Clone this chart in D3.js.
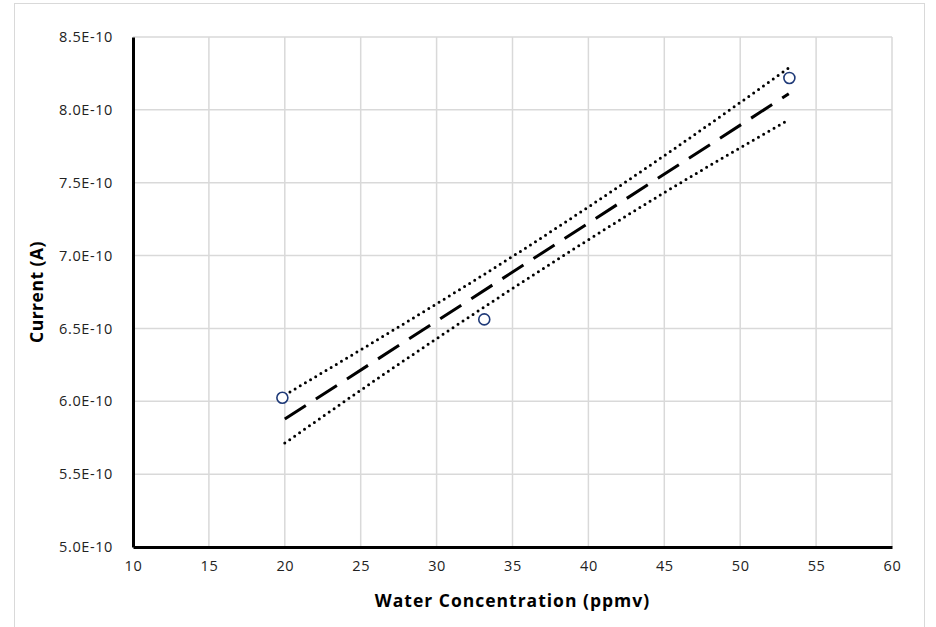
<!DOCTYPE html>
<html>
<head>
<meta charset="utf-8">
<script src="https://cdn.jsdelivr.net/npm/d3@7"></script>
<style>
  body { margin: 0; background: #fff; }
  svg { display: block; font-family: "Open Sans", "Noto Sans", sans-serif; }
</style>
</head>
<body>
<div id="chart"></div>
<script>
// measured points (x in ppmv, y in 1E-10 A)
const pointX = [19.84, 33.14, 53.24];
const pointY = [6.024, 6.562, 8.219];

// linear trend line ends
const trendX = [20, 53.2];
const trendY = [5.878, 8.110];

// dotted band (upper / lower)
const bandX = [20, 27, 35, 45, 53.2];
const bandUpper = [6.043, 6.479, 6.994, 7.686, 8.288];
const bandLower = [5.713, 6.219, 6.774, 7.432, 7.932];

const xTicks = [10, 15, 20, 25, 30, 35, 40, 45, 50, 55, 60];
const yTicks = [5.0, 5.5, 6.0, 6.5, 7.0, 7.5, 8.0, 8.5];

const width = 936, height = 627;
const margin = { left: 133, right: 44, top: 37, bottom: 80 };

const svg = d3.select("#chart")
    .append("svg")
    .attr("width", width)
    .attr("height", height);

// outer frame
svg.append("rect")
    .attr("x", 14.5).attr("y", 3.5)
    .attr("width", 910).attr("height", 640)
    .attr("fill", "none")
    .attr("stroke", "#d9d9d9")
    .attr("stroke-width", 1);

const x = d3.scaleLinear().domain([10, 60]).range([margin.left, width - margin.right]);
const y = d3.scaleLinear().domain([5.0, 8.5]).range([height - margin.bottom, margin.top]);

// grid
svg.append("g")
    .selectAll("line")
    .data(xTicks.slice(1))
    .enter()
    .append("line")
    .attr("x1", d => x(d)).attr("x2", d => x(d))
    .attr("y1", y(5.0)).attr("y2", y(8.5))
    .attr("stroke", "#d9d9d9")
    .attr("stroke-width", 1.5);

svg.append("g")
    .selectAll("line")
    .data(yTicks.slice(1))
    .enter()
    .append("line")
    .attr("x1", x(10)).attr("x2", x(60))
    .attr("y1", d => y(d)).attr("y2", d => y(d))
    .attr("stroke", "#d9d9d9")
    .attr("stroke-width", 1.5);

// axes
const xAxis = d3.axisBottom(x).tickValues(xTicks).tickSize(0).tickPadding(14).tickFormat(d3.format("d"));
const gx = svg.append("g")
    .attr("transform", `translate(0,${y(5.0)})`)
    .call(xAxis);
gx.select(".domain").attr("stroke", "#000").attr("stroke-width", 3);
gx.selectAll("text")
    .style("font-size", "14.5px")
    .style("letter-spacing", "0.6px")
    .attr("fill", "#222")
    .style("font-family", "'Open Sans', sans-serif");

const yAxis = d3.axisLeft(y).tickValues(yTicks).tickSize(0).tickPadding(20)
    .tickFormat(d => d.toFixed(1) + "E-10");
const gy = svg.append("g")
    .attr("transform", `translate(${x(10)},0)`)
    .call(yAxis);
gy.select(".domain").attr("stroke", "#000").attr("stroke-width", 3);
gy.selectAll("text")
    .style("font-size", "14.5px")
    .style("letter-spacing", "0.6px")
    .attr("fill", "#222")
    .style("font-family", "'Open Sans', sans-serif");

// band
const line = d3.line().x(d => x(d[0])).y(d => y(d[1])).curve(d3.curveMonotoneX);
[bandUpper, bandLower].forEach(vals => {
    svg.append("path")
        .datum(bandX.map((v, i) => [v, vals[i]]))
        .attr("d", line)
        .attr("fill", "none")
        .attr("stroke", "#000")
        .attr("stroke-width", 3)
        .attr("stroke-linecap", "round")
        .attr("stroke-dasharray", "0 6");
});

// trend
svg.append("path")
    .datum(trendX.map((v, i) => [v, trendY[i]]))
    .attr("d", d3.line().x(d => x(d[0])).y(d => y(d[1])))
    .attr("fill", "none")
    .attr("stroke", "#000")
    .attr("stroke-width", 3)
    .attr("stroke-dasharray", "25 12");

// points
svg.selectAll("circle.pt")
    .data(pointX.map((v, i) => [v, pointY[i]]))
    .enter()
    .append("circle")
    .attr("class", "pt")
    .attr("cx", d => x(d[0]))
    .attr("cy", d => y(d[1]))
    .attr("r", 5.5)
    .attr("fill", "#fff")
    .attr("stroke", "#1f3a78")
    .attr("stroke-width", 1.6);

// titles
svg.append("text")
    .attr("x", (x(10) + x(60)) / 2)
    .attr("y", 607)
    .attr("text-anchor", "middle")
    .style("font-size", "17.5px")
    .style("letter-spacing", "1px")
    .attr("font-weight", "bold")
    .text("Water Concentration (ppmv)");

svg.append("text")
    .attr("transform", `translate(43,${(y(5.0) + y(8.5)) / 2}) rotate(-90)`)
    .attr("text-anchor", "middle")
    .style("font-size", "17.5px")
    .style("letter-spacing", "0.5px")
    .attr("font-weight", "bold")
    .text("Current (A)");
</script>
</body>
</html>
